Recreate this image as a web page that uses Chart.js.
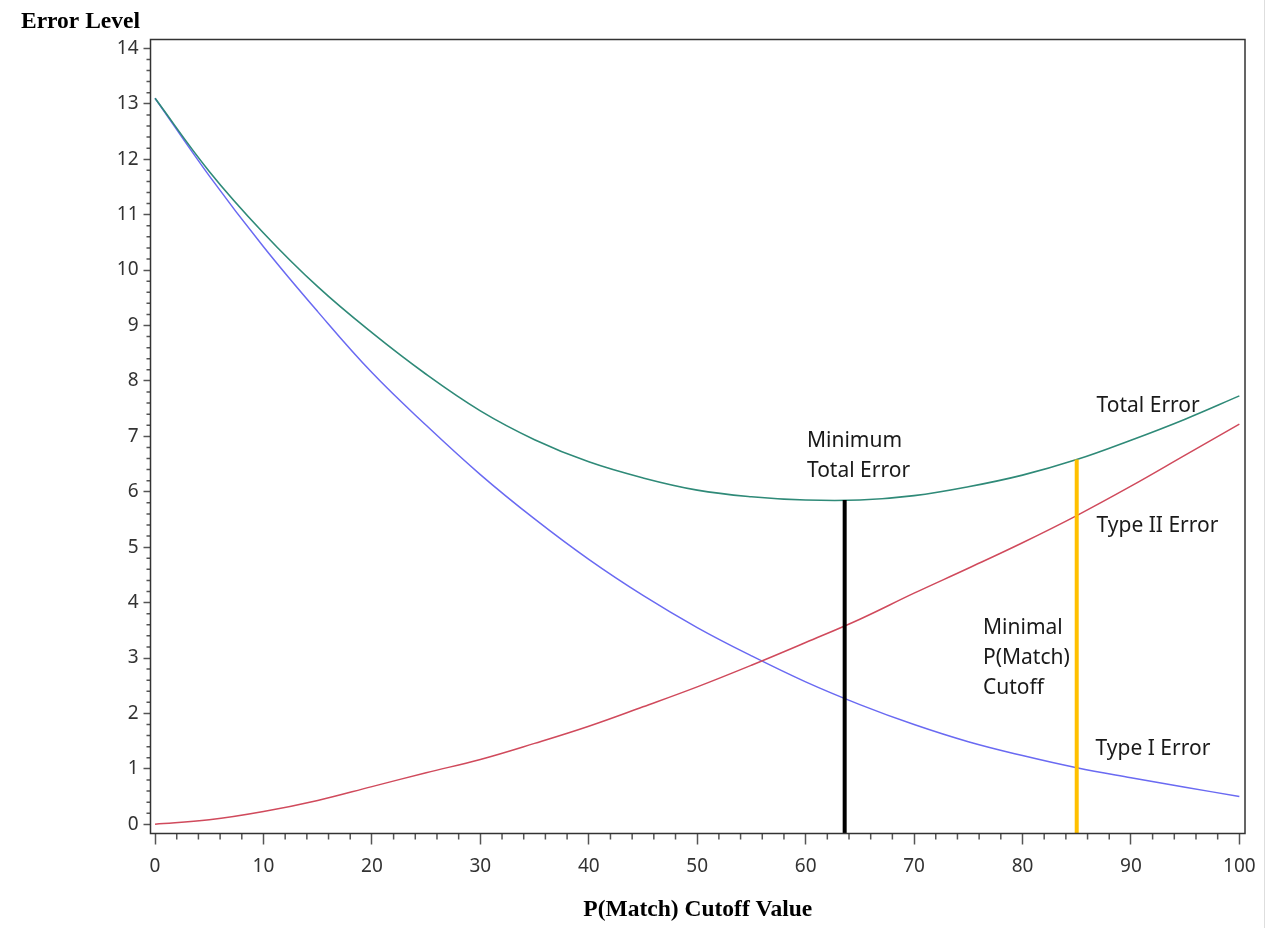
<!DOCTYPE html>
<html>
<head>
<meta charset="utf-8">
<script src="https://cdn.jsdelivr.net/npm/chart.js@4.4.0/dist/chart.umd.min.js"></script>
<style>
    html, body { margin: 0; padding: 0; background: #fff; }
    #wrap { position: relative; width: 1269px; height: 928px; }
    #edge { position: absolute; left: 1264px; top: 0; width: 1px; height: 928px; background: #dedede; }
</style>
</head>
<body>
<div id="wrap">
    <canvas id="errorChart" width="1269" height="928"></canvas>
    <div id="edge"></div>
</div>
<script>
// Values, every 5 points of cutoff
const cutoffValues = [0, 5, 10, 15, 20, 25, 30, 35, 40, 45, 50, 55, 60, 65, 70, 75, 80, 85, 90, 95, 100];
const typeOneError = [13.10, 11.70, 10.42, 9.25, 8.15, 7.20, 6.31, 5.51, 4.78, 4.13, 3.55, 3.04, 2.57, 2.16, 1.80, 1.49, 1.24, 1.02, 0.84, 0.67, 0.50];
const typeTwoError = [0.00, 0.08, 0.23, 0.43, 0.68, 0.93, 1.17, 1.46, 1.77, 2.12, 2.48, 2.87, 3.28, 3.70, 4.17, 4.62, 5.08, 5.57, 6.10, 6.66, 7.22];
const totalError = [13.10, 11.78, 10.67, 9.70, 8.87, 8.12, 7.46, 6.94, 6.54, 6.25, 6.03, 5.91, 5.85, 5.85, 5.93, 6.09, 6.30, 6.58, 6.93, 7.31, 7.73];

// Tick labels
const xTickValues = [0, 10, 20, 30, 40, 50, 60, 70, 80, 90, 100];
const yTickValues = [0, 1, 2, 3, 4, 5, 6, 7, 8, 9, 10, 11, 12, 13, 14];

// Vertical marker lines (cutoff, height reached)
const minimumErrorCutoff = 63.6;
const minimumErrorLevel = 5.85;
const minimalCutoff = 85.0;
const minimalCutoffLevel = 6.58;

// Axis ranges
const xMin = -0.42, xMax = 100.52;
const yMin = -0.166, yMax = 14.16;

// Text notes placed in data coordinates
const notes = [
    { x: 86.83, y: 7.55, lines: ['Total Error'] },
    { x: 60.12, y: 6.91, lines: ['Minimum', 'Total Error'] },
    { x: 86.83, y: 5.38, lines: ['Type II Error'] },
    { x: 76.36, y: 3.54, lines: ['Minimal', 'P(Match)', 'Cutoff'] },
    { x: 86.74, y: 1.36, lines: ['Type I Error'] }
];

function toPoints(xs, ys) {
    return xs.map((x, i) => ({ x: x, y: ys[i] }));
}

// Frame, minor ticks, titles and notes
const decorPlugin = {
    id: 'decor',
    afterDraw(chart) {
        const ctx = chart.ctx;
        const area = chart.chartArea;
        const xs = chart.scales.x;
        const ys = chart.scales.y;
        ctx.save();

        // minor ticks
        ctx.strokeStyle = '#555';
        ctx.lineWidth = 1.5;
        ctx.beginPath();
        for (let v = 2; v < 100; v += 2) {
            if (v % 10 === 0) continue;
            const px = xs.getPixelForValue(v);
            ctx.moveTo(px, area.bottom);
            ctx.lineTo(px, area.bottom + 6);
        }
        for (let i = 1; i < 71; i++) {
            if (i % 5 === 0) continue;
            const py = ys.getPixelForValue(i / 5);
            ctx.moveTo(area.left, py);
            ctx.lineTo(area.left - 4, py);
        }
        ctx.stroke();

        // plot frame
        ctx.strokeStyle = '#333';
        ctx.lineWidth = 1.5;
        ctx.strokeRect(area.left, area.top, area.right - area.left, area.bottom - area.top);

        // axis titles
        ctx.fillStyle = '#000';
        ctx.font = 'bold 23.5px "Liberation Serif", "Times New Roman", serif';
        ctx.textBaseline = 'middle';
        ctx.textAlign = 'left';
        ctx.fillText('Error Level', 21, 22);
        ctx.textAlign = 'center';
        ctx.fillText('P(Match) Cutoff Value', (area.left + area.right) / 2, 910);

        // notes
        ctx.fillStyle = '#1a1a1a';
        ctx.font = '21px "Noto Sans", sans-serif';
        ctx.textAlign = 'left';
        notes.forEach(note => {
            const px = xs.getPixelForValue(note.x);
            const py = ys.getPixelForValue(note.y);
            note.lines.forEach((line, i) => {
                ctx.fillText(line, px, py + i * 30);
            });
        });
        ctx.restore();
    }
};

const tickFont = { family: 'Noto Sans', size: 19 };

new Chart(document.getElementById('errorChart').getContext('2d'), {
    type: 'line',
    data: {
        datasets: [
            {
                label: 'Minimum Total Error',
                data: [{ x: minimumErrorCutoff, y: yMin }, { x: minimumErrorCutoff, y: minimumErrorLevel }],
                borderColor: '#000000',
                borderWidth: 4,
                borderCapStyle: 'butt',
                pointRadius: 0,
                order: 0
            },
            {
                label: 'Minimal P(Match) Cutoff',
                data: [{ x: minimalCutoff, y: yMin }, { x: minimalCutoff, y: minimalCutoffLevel }],
                borderColor: '#FFC000',
                borderWidth: 4,
                borderCapStyle: 'butt',
                pointRadius: 0,
                order: 0
            },
            {
                label: 'Total Error',
                data: toPoints(cutoffValues, totalError),
                borderColor: '#2f8a78',
                borderWidth: 1.6,
                pointRadius: 0,
                tension: 0.4,
                order: 1
            },
            {
                label: 'Type II Error',
                data: toPoints(cutoffValues, typeTwoError),
                borderColor: '#d04a5c',
                borderWidth: 1.5,
                pointRadius: 0,
                tension: 0.4,
                order: 2
            },
            {
                label: 'Type I Error',
                data: toPoints(cutoffValues, typeOneError),
                borderColor: '#6a6af2',
                borderWidth: 1.5,
                pointRadius: 0,
                tension: 0.4,
                order: 2
            }
        ]
    },
    options: {
        responsive: false,
        animation: false,
        devicePixelRatio: 1,
        layout: { padding: { top: 39.5, right: 24, left: 0, bottom: 0 } },
        plugins: {
            legend: { display: false },
            tooltip: { enabled: false }
        },
        scales: {
            x: {
                type: 'linear',
                min: xMin,
                max: xMax,
                afterBuildTicks: scale => { scale.ticks = xTickValues.map(v => ({ value: v })); },
                afterFit: scale => { scale.height = 94.5; },
                grid: { drawOnChartArea: false, drawTicks: true, tickLength: 11, tickColor: '#555', tickWidth: 1.5 },
                border: { display: false },
                ticks: { font: tickFont, color: '#333', padding: 11, maxRotation: 0, autoSkip: false }
            },
            y: {
                type: 'linear',
                min: yMin,
                max: yMax,
                afterBuildTicks: scale => { scale.ticks = yTickValues.map(v => ({ value: v })); },
                afterFit: scale => { scale.width = 150.5; },
                grid: { drawOnChartArea: false, drawTicks: true, tickLength: 7, tickColor: '#555', tickWidth: 1.5 },
                border: { display: false },
                ticks: { font: tickFont, color: '#333', padding: 5, autoSkip: false }
            }
        }
    },
    plugins: [decorPlugin]
});
</script>
</body>
</html>
